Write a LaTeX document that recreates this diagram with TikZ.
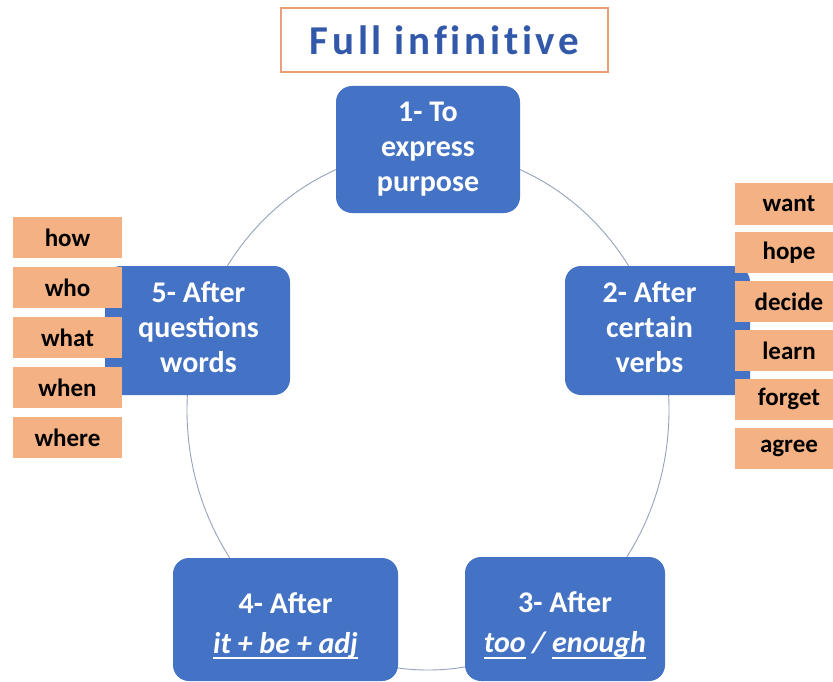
\documentclass[tikz,border=0pt]{standalone}
\usepackage{fontspec}
\setmainfont{Carlito}
\newfontfamily\titlefont[LetterSpace=9,Ligatures={NoCommon}]{Carlito}
\definecolor{nodeblue}{RGB}{68,114,196}
\definecolor{boxorange}{RGB}{244,177,131}
\definecolor{titleborder}{RGB}{236,158,118}
\definecolor{titleblue}{RGB}{50,88,170}
\definecolor{cyclegray}{RGB}{150,162,188}
\newcommand\ulword[1]{\setbox0\hbox{#1}\rlap{\rule[-6pt]{\wd0}{1.8pt}}\box0\relax}
\begin{document}
\begin{tikzpicture}[x=1pt,y=-1pt,
  bluebox/.style={fill=nodeblue, rounded corners=16pt, text=white, inner sep=0pt,
    font=\fontsize{30}{35}\selectfont\bfseries},
  wordbox/.style={fill=boxorange, minimum width=109pt, minimum height=41pt, inner sep=0pt,
    font=\fontsize{25}{30}\selectfont\bfseries, text=black},
  cycleline/.style={draw=cyclegray, line width=0.9pt},
  titlebox/.style={draw=titleborder, line width=1.5pt, fill=white, minimum width=327pt,
    minimum height=64pt, inner sep=0pt, text=titleblue, font=\titlefont\fontsize{41}{44}\selectfont\bfseries}]
\useasboundingbox (0,0) rectangle (833,682);
\clip (0,0) rectangle (833,682);
\fill[white] (0,0) rectangle (833,682);

% title
\node[titlebox] (title) at (444.5,40) {Full infinitive};

% cycle
\coordinate (cyc) at (428,410);
\draw[cycleline] (cyc) ellipse [x radius=241pt, y radius=260pt];

% main nodes
\node[bluebox, minimum width=184pt, minimum height=127pt] (n1) at (428,149.5)
  {\begin{tabular}{@{}c@{}}1- To\\express\\purpose\end{tabular}};
\node[bluebox, minimum width=185pt, minimum height=129pt] (n2) at (657.5,330.5)
  {\begin{tabular}{@{}c@{}}2- After\\certain\\verbs\end{tabular}\hspace*{16pt}};
\node[bluebox, minimum width=200pt, minimum height=124pt] (n3) at (565,619)
  {\begin{tabular}{@{}c@{}}\rule{0pt}{38pt}3- After\\[5pt]\itshape\ulword{too} / \ulword{enough}\end{tabular}};
\node[bluebox, minimum width=225pt, minimum height=123pt] (n4) at (285.5,619.5)
  {\begin{tabular}{@{}c@{}}\rule{0pt}{38pt}4- After\\[5pt]\itshape\ulword{it + be + adj}\end{tabular}};
\node[bluebox, minimum width=185pt, minimum height=129pt] (n5) at (197.5,330.5)
  {\hspace*{2pt}\begin{tabular}{@{}c@{}}5- After\\questions\\words\end{tabular}};

% word boxes, right
\node[wordbox] (want)   at (789,204)   {want};
\node[wordbox] (hope)   at (789,252.8) {hope};
\node[wordbox] (decide) at (789,301.6) {decide};
\node[wordbox] (learn)  at (789,350.4) {learn};
\node[wordbox] (forget) at (789,399.2) {forget};
\node[wordbox] (agree)  at (789,448)   {agree};

% word boxes, left
\node[wordbox] (how)   at (67.5,237.5) {how};
\node[wordbox] (who)   at (67.5,287.5) {who};
\node[wordbox] (what)  at (67.5,337.5) {what};
\node[wordbox] (when)  at (67.5,387.5) {when};
\node[wordbox] (where) at (67.5,437.5) {where};
\end{tikzpicture}
\end{document}
